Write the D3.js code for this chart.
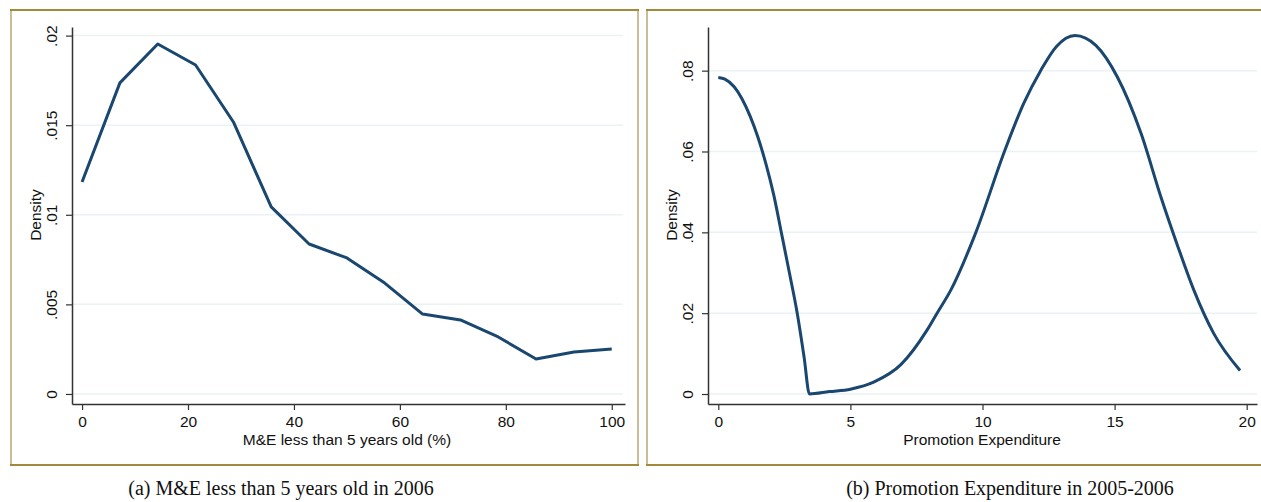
<!DOCTYPE html>
<html>
<head>
<meta charset="utf-8">
<script src="https://cdn.jsdelivr.net/npm/d3@7"></script>
<style>
  body { margin: 0; background: #fff; }
  svg { display: block; }
  .tick text { font-family: "Liberation Sans", Arial, sans-serif; font-size: 15.5px; fill: #111; }
  .axis-title { font-family: "Liberation Sans", Arial, sans-serif; font-size: 15.5px; fill: #111; }
  .caption { font-family: "Liberation Serif", "Times New Roman", serif; font-size: 20px; fill: #111; }
</style>
</head>
<body>
<div id="chart"></div>
<script>
// panel (a): M&E less than 5 years old, density
const ageX = [0, 7.14, 14.29, 21.43, 28.57, 35.71, 42.86, 50, 57.14, 64.29, 71.43, 78.57, 85.71, 92.86, 100];
const ageDensity = [0.01183, 0.01736, 0.01953, 0.01836, 0.01518, 0.01044, 0.00837, 0.00759, 0.00619, 0.00446, 0.00413, 0.00318, 0.00195, 0.00234, 0.00251];
const ageXTicks = [0, 20, 40, 60, 80, 100];
const ageYTicks = [0, 0.005, 0.01, 0.015, 0.02];
const ageYLabels = ["0", ".005", ".01", ".015", ".02"];

// panel (b): promotion expenditure, density
const promoX = [0, 0.25, 0.6, 0.9, 1.2, 1.5, 1.8, 2.1, 2.4, 2.7, 3.0, 3.25, 3.45, 4.2, 5.0, 5.9, 6.9, 7.9, 8.28, 8.8, 9.75, 10.83, 11.56, 12.2, 12.8, 13.5, 14.3, 15.1, 16.0, 16.75, 17.4, 18.0, 18.75, 19.75];
const promoDensity = [0.0783, 0.0779, 0.0760, 0.0730, 0.0688, 0.0635, 0.0570, 0.0492, 0.0395, 0.0297, 0.0195, 0.0090, 0.0, 0.0006, 0.0012, 0.003, 0.0072, 0.0158, 0.020, 0.0257, 0.040, 0.060, 0.0719, 0.080, 0.086, 0.0887, 0.0862, 0.0785, 0.0645, 0.0488, 0.0364, 0.0257, 0.015, 0.0058];
const promoXTicks = [0, 5, 10, 15, 20];
const promoYTicks = [0, 0.02, 0.04, 0.06, 0.08];
const promoYLabels = ["0", ".02", ".04", ".06", ".08"];

const lineColor = "#1a476f";
const gridColor = "#eaf2f3";

const svg = d3.select("#chart").append("svg")
    .attr("width", 1261)
    .attr("height", 502);

function drawPanel(opt) {
    const g = svg.append("g");

    // frame around the panel
    g.append("rect")
        .attr("x", opt.frame[0]).attr("y", 10)
        .attr("width", opt.frame[1] - opt.frame[0]).attr("height", 455)
        .attr("fill", "none").attr("stroke", "#c9be97").attr("stroke-width", 2);
    [10, 465].forEach(y => {
        g.append("line")
            .attr("x1", opt.frame[0] - 1).attr("x2", opt.frame[1] + 1)
            .attr("y1", y).attr("y2", y)
            .attr("stroke", "#a38a3a").attr("stroke-width", 2);
    });

    const x = d3.scaleLinear().domain(opt.xDomain).range([opt.left, opt.right]);
    const y = d3.scaleLinear().domain(opt.yDomain).range([404, 27]);

    // gridlines
    g.append("g").selectAll("line")
        .data(opt.yTicks)
        .enter()
        .append("line")
        .attr("x1", opt.left + 1).attr("x2", opt.gridEnd)
        .attr("y1", d => y(d)).attr("y2", d => y(d))
        .attr("stroke", gridColor).attr("stroke-width", 1.5);

    // y axis with rotated labels
    const yAxis = g.append("g")
        .attr("transform", `translate(${opt.left},0)`)
        .call(d3.axisLeft(y).tickValues(opt.yTicks).tickSize(6).tickSizeOuter(0)
            .tickFormat((d, i) => opt.yLabels[i]));
    yAxis.selectAll(".tick text")
        .attr("transform", "rotate(-90)")
        .attr("x", 0).attr("y", -15).attr("dy", 0)
        .attr("text-anchor", "middle");

    // x axis
    const xAxis = g.append("g")
        .attr("transform", "translate(0,404)")
        .call(d3.axisBottom(x).tickValues(opt.xTicks).tickSize(6).tickSizeOuter(0)
            .tickFormat(d3.format("d")));
    xAxis.selectAll(".tick text").attr("y", 11.5);

    [yAxis, xAxis].forEach(a => {
        a.select(".domain").attr("stroke", "#333").attr("stroke-width", 1.5);
        a.selectAll(".tick line").attr("stroke", "#333").attr("stroke-width", 1.2);
    });

    // density curve
    const line = d3.line()
        .x(d => x(d[0]))
        .y(d => y(d[1]))
        .curve(opt.curve);
    g.append("path")
        .datum(opt.xs.map((v, i) => [v, opt.ys[i]]))
        .attr("d", line)
        .attr("fill", "none")
        .attr("stroke", lineColor)
        .attr("stroke-width", 3)
        .attr("stroke-linejoin", "round");

    // titles
    g.append("text")
        .attr("class", "axis-title")
        .attr("transform", `translate(${opt.densityX},215) rotate(-90)`)
        .attr("text-anchor", "middle")
        .text("Density");
    g.append("text")
        .attr("class", "axis-title")
        .attr("x", opt.xTitleX).attr("y", 445)
        .attr("text-anchor", "middle")
        .text(opt.xTitle);
    g.append("text")
        .attr("class", "caption")
        .attr("x", opt.captionX).attr("y", 495)
        .attr("text-anchor", "middle")
        .text(opt.caption);
}

drawPanel({
    frame: [11, 638],
    left: 72, right: 625, gridEnd: 623,
    xDomain: [-1.9, 102.5], yDomain: [-0.00056, 0.02048],
    xTicks: ageXTicks, yTicks: ageYTicks, yLabels: ageYLabels,
    xs: ageX, ys: ageDensity, curve: d3.curveLinear,
    densityX: 41, xTitleX: 347,
    xTitle: "M&E less than 5 years old (%)",
    captionX: 281, caption: "(a) M&E less than 5 years old in 2006"
});

drawPanel({
    frame: [647, 1263],
    left: 708, right: 1257, gridEnd: 1257,
    xDomain: [-0.39, 20.39], yDomain: [-0.00247, 0.0908],
    xTicks: promoXTicks, yTicks: promoYTicks, yLabels: promoYLabels,
    xs: promoX, ys: promoDensity, curve: d3.curveMonotoneX,
    densityX: 677, xTitleX: 982,
    xTitle: "Promotion Expenditure",
    captionX: 1010, caption: "(b) Promotion Expenditure in 2005-2006"
});
</script>
</body>
</html>
